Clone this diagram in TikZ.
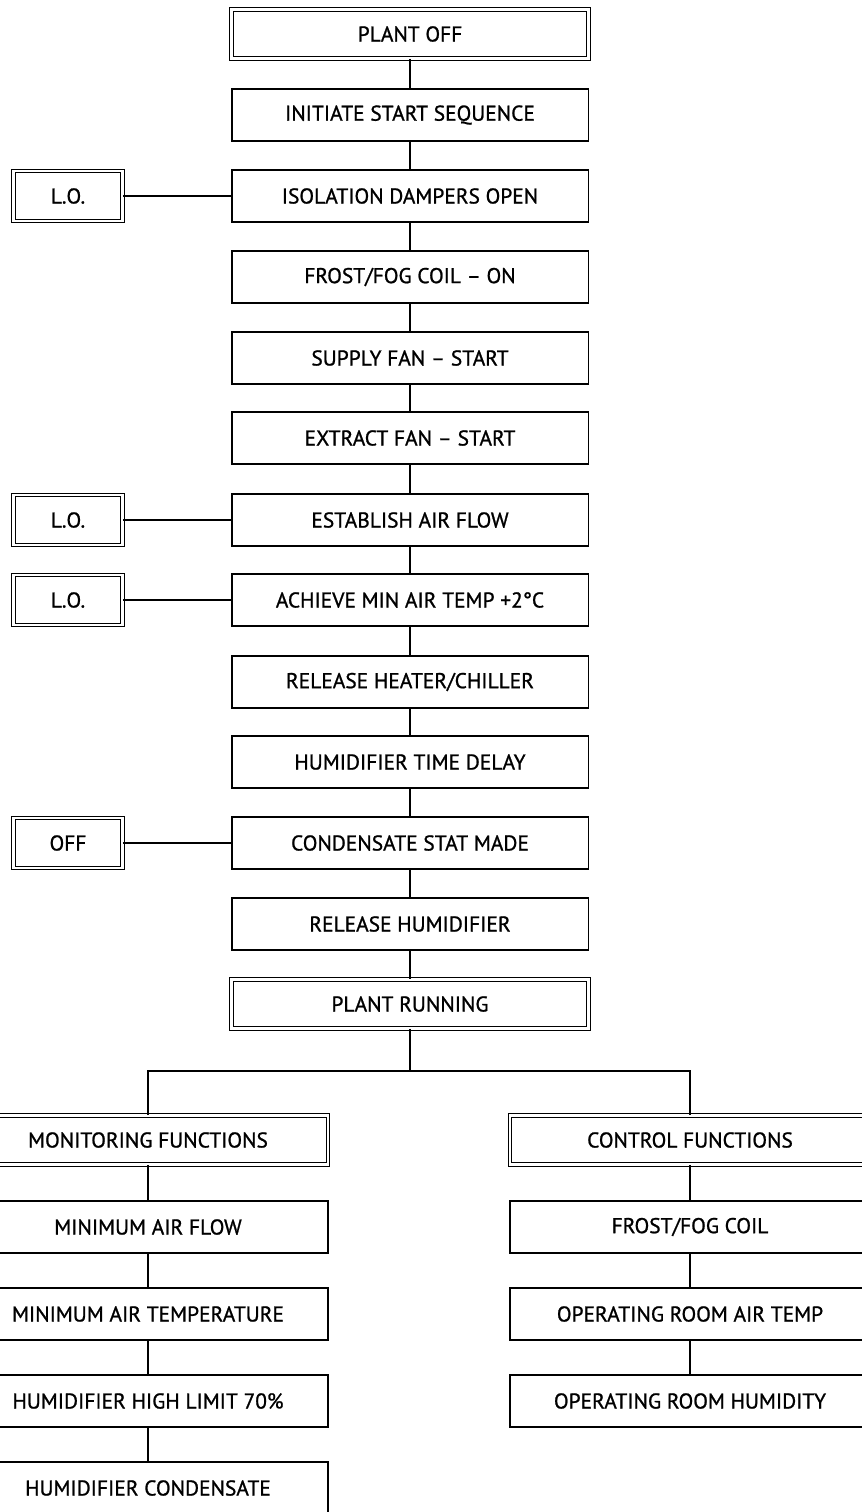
\documentclass[tikz,border=0pt]{standalone}
\usepackage{fontspec}
\setmainfont{PT Sans}
\newfontfamily\boxfont{PT Sans}[FakeBold=1, Ligatures=TeX]
\usetikzlibrary{positioning}

\tikzset{
  stepbox/.style={draw, line width=1.1pt, minimum width=7.14cm, minimum height=1.04cm,
    inner sep=0pt, font=\boxfont\fontsize{12.2}{14}\selectfont},
  endbox/.style={stepbox, line width=0.5pt, double, double distance=1.5pt, minimum height=0.98cm},
  widebox/.style={stepbox, minimum width=7.2cm},
  wideend/.style={endbox, minimum width=7.2cm},
  sidebox/.style={endbox, minimum width=2.18cm, minimum height=1.0cm},
  link/.style={line width=1.1pt}
}

\begin{document}
\begin{tikzpicture}[x=0.02cm, y=-0.02cm]
    \useasboundingbox (0,0) rectangle (862,1512);
    \clip (0,0) rectangle (862,1512);

    % start sequence
    \node[endbox]  (off)     at (410,34)   {PLANT OFF};
    \node[stepbox] (init)    at (410,115)  {INITIATE START SEQUENCE};
    \node[stepbox] (iso)     at (410,196)  {ISOLATION DAMPERS OPEN};
    \node[stepbox] (frost)   at (410,277)  {FROST/FOG COIL -- ON};
    \node[stepbox] (supply)  at (410,358)  {SUPPLY FAN -- START};
    \node[stepbox] (extract) at (410,438)  {EXTRACT FAN -- START};
    \node[stepbox] (flow)    at (410,520)  {ESTABLISH AIR FLOW};
    \node[stepbox] (temp)    at (410,600)  {ACHIEVE MIN AIR TEMP +2°C};
    \node[stepbox] (heat)    at (410,682)  {RELEASE HEATER/CHILLER};
    \node[stepbox] (delay)   at (410,762)  {HUMIDIFIER TIME DELAY};
    \node[stepbox] (stat)    at (410,843)  {CONDENSATE STAT MADE};
    \node[stepbox] (hum)     at (410,924)  {RELEASE HUMIDIFIER};
    \node[endbox]  (run)     at (410,1004) {PLANT RUNNING};

    \draw[link] (off) -- (init) -- (iso) -- (frost) -- (supply) -- (extract)
        -- (flow) -- (temp) -- (heat) -- (delay) -- (stat) -- (hum) -- (run);

    % side boxes
    \node[sidebox] (lo1)  at (68,196) {L.O.};
    \node[sidebox] (lo2)  at (68,520) {L.O.};
    \node[sidebox] (lo3)  at (68,600) {L.O.};
    \node[sidebox] (offs) at (68,843) {OFF};

    \draw[link] (lo1) -- (iso);
    \draw[link] (lo2) -- (flow);
    \draw[link] (lo3) -- (temp);
    \draw[link] (offs) -- (stat);

    % functions
    \coordinate (split) at (410,1071);
    \node[wideend]  (mon)     at (148,1140) {MONITORING FUNCTIONS};
    \node[widebox]  (minflow) at (148,1227) {MINIMUM AIR FLOW};
    \node[widebox]  (mintemp) at (148,1314) {MINIMUM AIR TEMPERATURE};
    \node[widebox]  (hilim)   at (148,1401) {HUMIDIFIER HIGH LIMIT 70\%};
    \node[widebox]  (cond)    at (148,1488) {HUMIDIFIER CONDENSATE};

    \node[wideend]  (ctl)     at (690,1140) {CONTROL FUNCTIONS};
    \node[widebox]  (frostc)  at (690,1227) {FROST/FOG COIL};
    \node[widebox]  (ortemp)  at (690,1314) {OPERATING ROOM AIR TEMP};
    \node[widebox]  (orhum)   at (690,1401) {OPERATING ROOM HUMIDITY};

    \draw[link] (run) -- (split);
    \draw[link] (mon.north) |- (split) -| (ctl.north);
    \draw[link] (mon) -- (minflow) -- (mintemp) -- (hilim) -- (cond);
    \draw[link] (ctl) -- (frostc) -- (ortemp) -- (orhum);
\end{tikzpicture}
\end{document}
